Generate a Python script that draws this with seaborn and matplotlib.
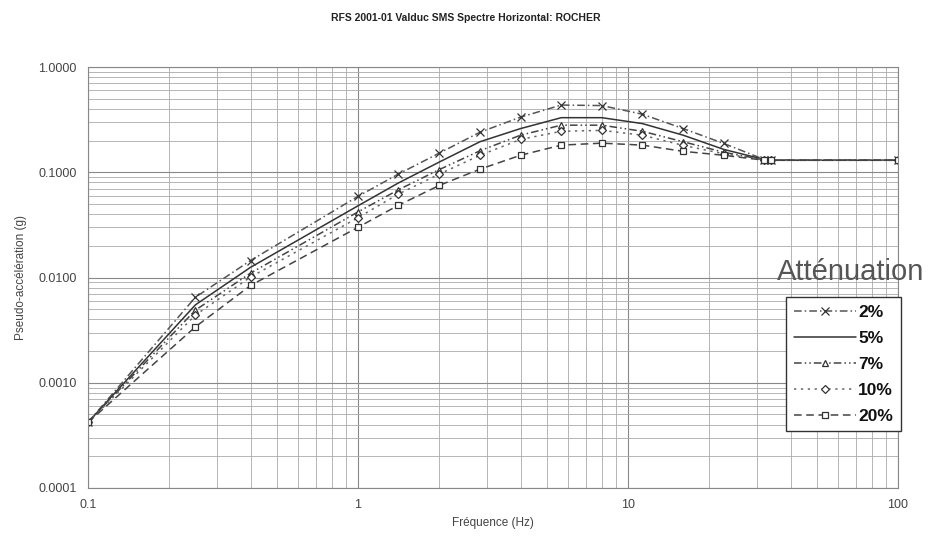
import matplotlib
matplotlib.use("Agg")
import matplotlib.pyplot as plt
import matplotlib.ticker as mticker
import seaborn as sns
import pandas as pd

freqs = [0.1, 0.25, 0.4, 1.0, 1.41, 2.0, 2.83, 4.0, 5.66, 8.0, 11.3, 16.0, 22.6, 32.0, 34.0, 100.0]
amort_2 = [0.00042, 0.0065, 0.0145, 0.059, 0.096, 0.152, 0.24, 0.334, 0.435, 0.43, 0.356, 0.26, 0.188, 0.132, 0.13, 0.13]
amort_5 = [0.00042, 0.0055, 0.0125, 0.048, 0.079, 0.125, 0.195, 0.26, 0.33, 0.33, 0.29, 0.225, 0.165, 0.132, 0.13, 0.13]
amort_7 = [0.00042, 0.0049, 0.011, 0.042, 0.068, 0.106, 0.16, 0.225, 0.28, 0.28, 0.245, 0.195, 0.155, 0.131, 0.13, 0.13]
amort_10 = [0.00042, 0.0044, 0.0101, 0.037, 0.062, 0.096, 0.145, 0.205, 0.245, 0.25, 0.225, 0.18, 0.15, 0.131, 0.13, 0.13]
amort_20 = [0.00042, 0.0034, 0.0084, 0.030, 0.0485, 0.075, 0.107, 0.145, 0.181, 0.189, 0.181, 0.158, 0.145, 0.13, 0.13, 0.13]
series_labels = ["2%", "5%", "7%", "10%", "20%"]
y_ticks = [0.0001, 0.001, 0.01, 0.1, 1.0]
x_ticks = [0.1, 1, 10, 100]

sns.set_style("white")
plt.rcParams['font.family'] = ['Liberation Sans', 'DejaVu Sans']

fig = plt.figure(figsize=(9.31, 5.42), dpi=100)
ax = fig.add_axes([88/931, 1-488/542, (898-88)/931, (488-67)/542])

styles = [
    dict(linestyle=(0, (5, 2, 1, 2)), marker='x', markersize=6, mfc='none'),
    dict(linestyle='-', marker=None),
    dict(linestyle=(0, (5, 2, 1, 2, 1, 2)), marker='^', markersize=5, mfc='white'),
    dict(linestyle=(0, (1.5, 3)), marker='D', markersize=4, mfc='white'),
    dict(linestyle=(0, (5, 3)), marker='s', markersize=5, mfc='white'),
]
all_series = [amort_2, amort_5, amort_7, amort_10, amort_20]
colors = ['#555555', '#333333', '#444444', '#666666', '#444444']
for lab, vals, st, c in zip(series_labels, all_series, styles, colors):
    df = pd.DataFrame({"f": freqs, "a": vals})
    sns.lineplot(data=df, x="f", y="a", ax=ax, color=c, linewidth=1.1,
                 label=lab, mec='#333333', mew=0.9, **st)

ax.set_xscale('log')
ax.set_yscale('log')
ax.set_xlim(0.1, 100)
ax.set_ylim(0.0001, 1.0)
ax.set_xticks(x_ticks)
ax.set_xticklabels(["0.1", "1", "10", "100"])
ax.set_yticks(y_ticks)
ax.set_yticklabels([f"{v:.4f}" for v in y_ticks])
ax.xaxis.set_minor_locator(mticker.LogLocator(base=10, subs=range(2, 10)))
ax.yaxis.set_minor_locator(mticker.LogLocator(base=10, subs=range(2, 10)))
ax.xaxis.set_minor_formatter(mticker.NullFormatter())
ax.yaxis.set_minor_formatter(mticker.NullFormatter())
ax.grid(True, which='major', color='#888888', linewidth=0.8)
ax.grid(True, which='minor', color='#aaaaaa', linewidth=0.6)
ax.tick_params(axis='both', which='both', length=0, labelsize=9, labelcolor='#444444', pad=8)
for s in ax.spines.values():
    s.set_color('#888888')
    s.set_linewidth(0.8)

ax.set_xlabel("Fréquence (Hz)", fontsize=8.5, color='#444444', labelpad=4)
ax.set_ylabel("Pseudo-accélération (g)", fontsize=8.5, color='#444444', labelpad=8)
fig.text(0.5, 1-18/542, "RFS 2001-01 Valduc SMS Spectre Horizontal: ROCHER",
         ha='center', va='center', fontsize=7.5, fontweight='bold', color='#222222')

fig.text(851/931, 1-272/542, "Atténuation", ha='center', va='center',
         fontsize=21, color='#555555')
leg = ax.legend(loc='upper left', bbox_to_anchor=(786/931, 1-297/542),
                bbox_transform=fig.transFigure, fontsize=12.5, frameon=True,
                fancybox=False, edgecolor='#333333', framealpha=1,
                handlelength=3.6, handletextpad=0.1, labelspacing=0.62,
                borderpad=0.45, borderaxespad=0)
leg.get_frame().set_linewidth(1.0)
for t in leg.get_texts():
    t.set_fontweight('bold')
    t.set_color('#111111')

fig.savefig("out.png", dpi=100)
